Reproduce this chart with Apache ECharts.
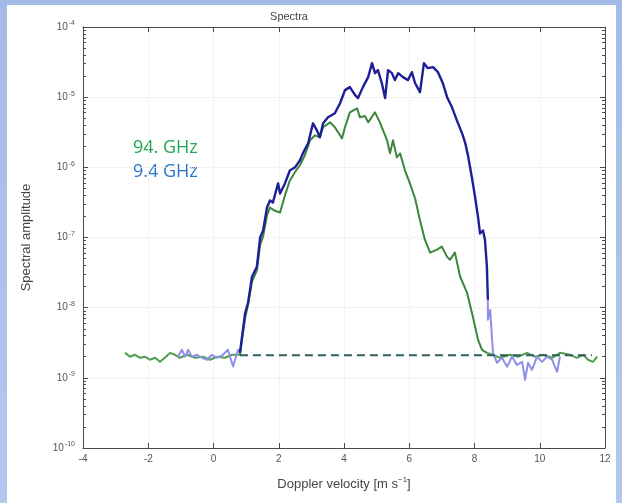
<!DOCTYPE html>
<html>
<head>
<meta charset="utf-8">
<script src="https://cdn.jsdelivr.net/npm/echarts@6/dist/echarts.min.js"></script>
<style>
  html, body { margin: 0; padding: 0; width: 622px; height: 503px; overflow: hidden; }
  body { background: linear-gradient(180deg, #a3bbe6 0%, #b4c8ee 100%); position: relative; }
  #paper { position: absolute; left: 7px; top: 5px; width: 609px; height: 498px; background: #ffffff; }
  #chart { position: absolute; left: 0; top: 0; width: 622px; height: 503px; }
</style>
</head>
<body>
<div id="paper"></div>
<div id="chart"></div>
<script>
// ---- Data (velocity in m/s, amplitude) ----
const blueSignalV = [0.81, 0.97, 1.06, 1.18, 1.33, 1.43, 1.52, 1.64, 1.73, 1.82, 1.98, 2.04, 2.19, 2.34, 2.50, 2.65, 2.74, 2.90, 3.05, 3.17, 3.26, 3.36, 3.51, 3.72, 3.88, 4.03, 4.18, 4.34, 4.43, 4.58, 4.74, 4.86, 4.95, 5.04, 5.16, 5.26, 5.35, 5.47, 5.56, 5.66, 5.81, 5.96, 6.08, 6.18, 6.33, 6.45, 6.57, 6.73, 6.88, 7.03, 7.16, 7.31, 7.46, 7.62, 7.71, 7.80, 7.92, 8.02, 8.11, 8.17, 8.26, 8.32, 8.38, 8.41];
const blueSignalA = [2.27e-9, 8.4e-9, 1.18e-8, 2.76e-8, 3.84e-8, 1.0e-7, 1.26e-7, 2.68e-7, 3.37e-7, 3.15e-7, 5.9e-7, 4.24e-7, 5.9e-7, 9.0e-7, 1.0e-6, 1.26e-6, 1.58e-6, 2.2e-6, 4.24e-6, 3.37e-6, 2.68e-6, 4.24e-6, 5.16e-6, 5.9e-6, 8.2e-6, 1.26e-5, 1.39e-5, 1.07e-5, 9.7e-6, 1.39e-5, 1.93e-5, 3.05e-5, 2.2e-5, 2.43e-5, 1.58e-5, 9.7e-6, 2.43e-5, 2.2e-5, 1.75e-5, 2.2e-5, 1.93e-5, 1.75e-5, 2.27e-5, 1.58e-5, 1.18e-5, 3.05e-5, 2.59e-5, 2.68e-5, 2.27e-5, 1.58e-5, 1.0e-5, 7.16e-6, 4.68e-6, 3.05e-6, 2.27e-6, 1.48e-6, 7.16e-7, 3.72e-7, 1.93e-7, 1.14e-7, 1.26e-7, 9.3e-8, 3.84e-8, 1.3e-8];

const blueNoiseLeftV = [-1.09, -0.97, -0.87, -0.78, -0.66, -0.51, -0.35, -0.20, -0.05, 0.11, 0.29, 0.44, 0.60, 0.75, 0.81];
const blueNoiseLeftA = [2.0e-9, 2.51e-9, 2.0e-9, 2.51e-9, 2.0e-9, 2.13e-9, 1.93e-9, 1.81e-9, 2.13e-9, 1.93e-9, 2.13e-9, 2.51e-9, 1.45e-9, 2.51e-9, 2.27e-9];

const blueNoiseRightV = [8.41, 8.41, 8.48, 8.54, 8.57, 8.69, 8.84, 9.00, 9.15, 9.30, 9.46, 9.55, 9.64, 9.76, 9.92, 10.07, 10.22, 10.38, 10.53, 10.62];
const blueNoiseRightA = [1.3e-8, 6.7e-9, 9.3e-9, 3.47e-9, 2.27e-9, 1.64e-9, 1.93e-9, 1.44e-9, 2.0e-9, 1.53e-9, 1.69e-9, 9.4e-10, 1.64e-9, 1.3e-9, 2.0e-9, 1.69e-9, 2.0e-9, 1.81e-9, 1.22e-9, 2.0e-9];

const greenSignalV = [0.81, 0.97, 1.06, 1.18, 1.33, 1.43, 1.52, 1.64, 1.73, 1.88, 2.04, 2.19, 2.34, 2.50, 2.65, 2.80, 2.96, 3.11, 3.26, 3.36, 3.57, 3.72, 3.94, 4.03, 4.18, 4.40, 4.49, 4.64, 4.74, 4.95, 5.10, 5.32, 5.41, 5.50, 5.62, 5.72, 5.87, 6.02, 6.18, 6.33, 6.48, 6.64, 6.85, 7.00, 7.16, 7.25, 7.40, 7.56, 7.77, 7.95, 8.11, 8.23, 8.38];
const greenSignalA = [2.13e-9, 7.2e-9, 1.1e-8, 2.35e-8, 3.4e-8, 7.9e-8, 1.03e-7, 2.06e-7, 2.68e-7, 2.4e-7, 2.27e-7, 3.98e-7, 6.5e-7, 8.6e-7, 1.07e-6, 1.48e-6, 2.43e-6, 2.86e-6, 2.68e-6, 3.72e-6, 4.38e-6, 3.72e-6, 2.59e-6, 3.72e-6, 6.08e-6, 6.93e-6, 5.16e-6, 5.4e-6, 4.38e-6, 6.08e-6, 4.38e-6, 2.43e-6, 1.58e-6, 2.43e-6, 1.39e-6, 1.58e-6, 9.0e-7, 5.9e-7, 3.6e-7, 1.75e-7, 9.3e-8, 6.08e-8, 6.7e-8, 7.4e-8, 5.3e-8, 4.83e-8, 6.08e-8, 2.76e-8, 1.64e-8, 7.4e-9, 3.47e-9, 2.51e-9, 2.27e-9];

const greenNoiseLeftV = [-2.71, -2.56, -2.41, -2.25, -2.10, -1.95, -1.79, -1.64, -1.49, -1.33, -1.18, -1.03, -0.81, -0.57, -0.32, -0.11, 0.11, 0.35, 0.57, 0.81];
const greenNoiseLeftA = [2.27e-9, 2.0e-9, 2.13e-9, 1.93e-9, 2.0e-9, 1.81e-9, 1.93e-9, 1.69e-9, 1.93e-9, 2.27e-9, 2.13e-9, 1.93e-9, 2.13e-9, 1.93e-9, 2.0e-9, 1.81e-9, 2.0e-9, 1.93e-9, 2.13e-9, 2.13e-9];

const greenNoiseRightV = [8.38, 8.57, 8.78, 9.09, 9.33, 9.61, 9.85, 10.10, 10.38, 10.62, 10.93, 11.14, 11.33, 11.48, 11.63, 11.76];
const greenNoiseRightA = [2.27e-9, 2.13e-9, 1.93e-9, 2.13e-9, 2.0e-9, 2.27e-9, 2.0e-9, 2.13e-9, 1.93e-9, 2.27e-9, 2.13e-9, 1.93e-9, 2.13e-9, 1.81e-9, 1.69e-9, 2.0e-9];

const noiseFloorV = [0.81, 11.6];
const noiseFloorA = [2.1e-9, 2.1e-9];

const xTickMin = -4, xTickMax = 12, xTickStep = 2;
const yMin = 1e-10, yMax = 1e-4;

const legendLabels = ['94. GHz', '9.4 GHz'];

function zip(v, a) { return v.map((x, i) => [x, a[i]]); }

// minor tick positions of the log axis (2..9 x 10^n)
const minorTickValues = [];
for (let e = -10; e < -4; e++) {
  for (let k = 2; k <= 9; k++) minorTickValues.push(k * Math.pow(10, e));
}

const chart = echarts.init(document.getElementById('chart'), null, { renderer: 'canvas' });

const axisColor = '#4a4a4a';
const labelColor = '#555555';
const gridColor = '#e6e6e6';
const font = 'Liberation Sans, Arial';

function xAxisBase(pos, showLabel) {
  return {
    type: 'value', position: pos, min: xTickMin, max: xTickMax, interval: xTickStep,
    axisLine: { show: true, onZero: false, lineStyle: { color: axisColor, width: 1 } },
    axisTick: { show: true, inside: true, length: 5, lineStyle: { color: axisColor } },
    axisLabel: { show: showLabel, color: labelColor, fontSize: 10, fontFamily: font, margin: 6 },
    splitLine: { show: showLabel, lineStyle: { color: gridColor, type: 'dotted', width: 1 } }
  };
}
function yAxisBase(pos, showLabel) {
  return {
    type: 'log', logBase: 10, position: pos, min: yMin, max: yMax,
    axisLine: { show: true, onZero: false, lineStyle: { color: axisColor, width: 1 } },
    axisTick: { show: true, inside: true, length: 5, lineStyle: { color: axisColor } },
    axisLabel: {
      show: showLabel, margin: 8, color: labelColor, fontSize: 10, fontFamily: font,
      formatter: function (v) { return '10{s|' + Math.round(Math.log10(v)) + '}'; },
      rich: { s: { fontSize: 7, verticalAlign: 'top', padding: [0, 0, 7, 1], color: labelColor, fontFamily: font } }
    },
    splitLine: { show: showLabel, lineStyle: { color: gridColor, type: 'dotted', width: 1 } }
  };
}
function yMinorAxis(pos) {
  return {
    type: 'log', logBase: 10, position: pos, min: yMin, max: yMax,
    axisLine: { show: false, onZero: false },
    axisTick: { show: true, inside: true, length: 3, customValues: minorTickValues, lineStyle: { color: axisColor } },
    axisLabel: { show: false },
    splitLine: { show: false }
  };
}

const xa0 = xAxisBase('bottom', true);
xa0.name = 'Doppler velocity [m s{s|−1}]';
xa0.nameLocation = 'middle';
xa0.nameGap = 28;
xa0.nameTextStyle = { color: '#444', fontSize: 13, fontFamily: font,
  rich: { s: { fontSize: 8, verticalAlign: 'top', padding: [0, 0, 8, 0], color: '#444', fontFamily: font } } };

const ya0 = yAxisBase('left', true);
ya0.name = 'Spectral amplitude';
ya0.nameLocation = 'middle';
ya0.nameGap = 50;
ya0.nameTextStyle = { color: '#444', fontSize: 13, fontFamily: font };

function lineSeries(name, data, color, width, z, dashed) {
  return {
    name: name, type: 'line', data: data, xAxisIndex: 0, yAxisIndex: 0,
    showSymbol: false, symbol: 'none', smooth: false, z: z, animation: false,
    lineStyle: { color: color, width: width, type: dashed ? [8, 5] : 'solid', cap: 'butt', join: 'round' }
  };
}

const option = {
  animation: false,
  backgroundColor: 'transparent',
  title: {
    text: 'Spectra', left: 284, top: 6, textAlign: 'center',
    textStyle: { color: '#444', fontSize: 11, fontWeight: 'normal', fontFamily: font }
  },
  grid: { left: 83, top: 27, width: 522, height: 421, containLabel: false },
  xAxis: [xa0, xAxisBase('top', false)],
  yAxis: [ya0, yAxisBase('right', false), yMinorAxis('left'), yMinorAxis('right')],
  graphic: [
    { type: 'text', left: 133, top: 139, style: { text: legendLabels[0], fill: '#22a84e', fontSize: 18, fontFamily: 'Open Sans, Lato, sans-serif' } },
    { type: 'text', left: 133, top: 163, style: { text: legendLabels[1], fill: '#2b74c4', fontSize: 18, fontFamily: 'Open Sans, Lato, sans-serif' } }
  ],
  series: [
    lineSeries('94 GHz noise L', zip(greenNoiseLeftV, greenNoiseLeftA), '#4f9d4f', 2, 2),
    lineSeries('94 GHz noise R', zip(greenNoiseRightV, greenNoiseRightA), '#4f9d4f', 2, 2),
    lineSeries('9.4 GHz noise L', zip(blueNoiseLeftV, blueNoiseLeftA), '#8f8fe8', 2, 3),
    lineSeries('9.4 GHz noise R', zip(blueNoiseRightV, blueNoiseRightA), '#8f8fe8', 2, 3),
    lineSeries('94 GHz', zip(greenSignalV, greenSignalA), '#3b873b', 2, 4),
    lineSeries('9.4 GHz', zip(blueSignalV, blueSignalA), '#1e1e98', 2.4, 5),
    lineSeries('noise floor', zip(noiseFloorV, noiseFloorA), '#2f5e5e', 2, 6, true)
  ]
};
chart.setOption(option);
</script>
</body>
</html>
